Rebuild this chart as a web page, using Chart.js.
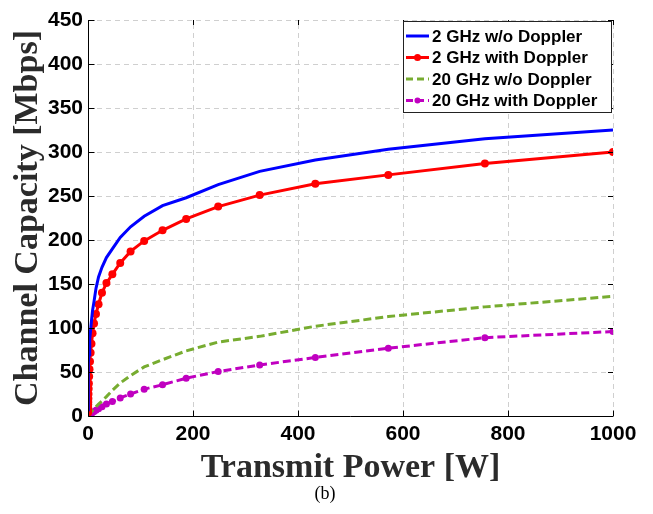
<!DOCTYPE html>
<html>
<head>
<meta charset="utf-8">
<script src="https://cdn.jsdelivr.net/npm/chart.js@4.4.0/dist/chart.umd.min.js"></script>
<style>
  body { margin: 0; background: #fff; }
  #wrap { width: 653px; height: 514px; }
</style>
</head>
<body>
<div id="wrap"><canvas id="capChart" width="653" height="514"></canvas></div>
<script>
// Transmit power samples [W] (log-spaced)
const power = [0.1, 0.13, 0.18, 0.23, 0.31, 0.41, 0.54, 0.71, 0.94, 1.24, 1.64, 2.17,
  2.86, 3.78, 5.0, 6.6, 8.7, 11.5, 15.2, 20.1, 26.6, 35.1, 46.4, 61.4, 81.1, 107,
  142, 187, 248, 327, 433, 572, 756, 1000];

// Channel capacity [Mbps]
const cap2NoDop = [7, 9, 12, 15, 19, 24, 30, 36, 43, 51, 60, 70, 80, 88, 98, 108,
  120, 130, 145, 158, 169, 180, 190, 203, 215, 227, 239, 248, 263, 278, 291, 303, 315, 325];
const cap2Dop = [4, 5, 6, 8, 10, 13, 16, 20, 25, 31, 37, 45, 53, 62, 72, 82, 94,
  105, 116, 127, 140, 151, 161, 174, 187, 199, 211, 224, 238, 251, 264, 274, 287, 300];
const cap20NoDop = [0.08, 0.1, 0.15, 0.2, 0.25, 0.3, 0.4, 0.5, 0.7, 0.9, 1.2, 1.6,
  2.1, 2.8, 3.7, 4.8, 6.2, 8, 10.5, 13.5, 17, 22, 29, 37.5, 46, 55.8, 64, 74, 84, 90.5, 102, 113, 124, 136];
const cap20Dop = [0.05, 0.07, 0.1, 0.12, 0.15, 0.2, 0.3, 0.4, 0.5, 0.6, 0.8, 1.1,
  1.4, 1.8, 2.3, 3.0, 3.9, 5, 6.5, 8.2, 10.5, 13.5, 16.5, 20.5, 25, 30.5, 35.5, 43, 50.5, 58, 66.5, 77, 89, 96];

const seriesNames = ["2 GHz w/o Doppler", "2 GHz with Doppler", "20 GHz w/o Doppler", "20 GHz with Doppler"];
const xTicks = [0, 200, 400, 600, 800, 1000];
const yTicks = [0, 50, 100, 150, 200, 250, 300, 350, 400, 450];

const toPts = (ys) => power.map((x, i) => ({ x: x, y: ys[i] }));

const styles = [
  { color: "#0000ff", dash: [], marker: 0 },
  { color: "#ff0000", dash: [], marker: 4 },
  { color: "#77ac30", dash: [8, 4], marker: 0 },
  { color: "#c000c0", dash: [8, 4], marker: 3.5 },
];

// dashed grid under the lines
const dashedGrid = {
  id: "dashedGrid",
  beforeDatasetsDraw(chart) {
    const ctx = chart.ctx;
    const a = chart.chartArea;
    const xs = chart.scales.x, ys = chart.scales.y;
    ctx.save();
    ctx.strokeStyle = "#cfcfcf";
    ctx.lineWidth = 1;
    ctx.setLineDash([5, 4]);
    ctx.beginPath();
    xTicks.slice(1).forEach((t) => {
      const px = Math.round(xs.getPixelForValue(t)) + 0.5;
      ctx.moveTo(px, a.bottom); ctx.lineTo(px, a.top);
    });
    yTicks.slice(1).forEach((t) => {
      const py = Math.round(ys.getPixelForValue(t)) + 0.5;
      ctx.moveTo(a.left, py); ctx.lineTo(a.right, py);
    });
    ctx.stroke();
    ctx.restore();
  },
};

// inward ticks, legend box and caption
const extras = {
  id: "extras",
  afterDraw(chart) {
    const ctx = chart.ctx;
    const a = chart.chartArea;
    const xs = chart.scales.x, ys = chart.scales.y;
    ctx.save();
    ctx.strokeStyle = "#000";
    ctx.lineWidth = 1;
    ctx.beginPath();
    const l = Math.round(a.left) + 0.5, b = Math.round(a.bottom) + 0.5;
    ctx.moveTo(l, a.top); ctx.lineTo(l, b); ctx.lineTo(a.right, b);
    xTicks.forEach((t) => {
      const px = Math.round(xs.getPixelForValue(t)) + 0.5;
      ctx.moveTo(px, b); ctx.lineTo(px, b - 6);
      ctx.moveTo(px, a.top); ctx.lineTo(px, a.top + 5);
    });
    yTicks.forEach((t) => {
      const py = Math.round(ys.getPixelForValue(t)) + 0.5;
      ctx.moveTo(l, py); ctx.lineTo(l + 6, py);
      ctx.moveTo(a.right, py); ctx.lineTo(a.right - 5, py);
    });
    ctx.stroke();

    // legend
    const bx = 403.5, by = 21.5, bw = 208, bh = 91;
    ctx.fillStyle = "#fff";
    ctx.fillRect(bx, by, bw, bh);
    ctx.strokeStyle = "#222";
    ctx.strokeRect(bx, by, bw, bh);
    ctx.font = "bold 17px 'Liberation Sans', Arial, sans-serif";
    ctx.textBaseline = "middle";
    ctx.textAlign = "left";
    seriesNames.forEach((name, i) => {
      const ry = 36 + i * 21.5;
      const st = styles[i];
      ctx.strokeStyle = st.color;
      ctx.lineWidth = 3;
      ctx.setLineDash(st.dash.length ? [7, 4] : []);
      ctx.beginPath();
      ctx.moveTo(406, ry); ctx.lineTo(429, ry);
      ctx.stroke();
      ctx.setLineDash([]);
      if (st.marker) {
        ctx.fillStyle = st.color;
        ctx.beginPath();
        ctx.arc(417.5, ry, st.marker - 0.5, 0, Math.PI * 2);
        ctx.fill();
      }
      ctx.fillStyle = "#000";
      ctx.fillText(name, 432, ry + 1);
    });

    // caption
    ctx.font = "18px 'Liberation Serif', 'Times New Roman', serif";
    ctx.textAlign = "center";
    ctx.fillStyle = "#000";
    ctx.fillText("(b)", 325, 494);
    ctx.restore();
  },
};

const datasets = [cap2NoDop, cap2Dop, cap20NoDop, cap20Dop].map((vals, i) => ({
  label: seriesNames[i],
  data: toPts(vals),
  borderColor: styles[i].color,
  backgroundColor: styles[i].color,
  borderWidth: 3,
  borderDash: styles[i].dash,
  pointRadius: styles[i].marker,
  pointBorderWidth: 0,
  tension: 0,
  fill: false,
}));

const tickFont = { family: "'Liberation Sans', Arial, sans-serif", size: 21, weight: "bold" };
const titleFont = { family: "'Liberation Serif', 'Times New Roman', serif", size: 34, weight: "bold" };

new Chart(document.getElementById("capChart"), {
  type: "line",
  data: { datasets: datasets },
  options: {
    responsive: false,
    animation: false,
    layout: { padding: { top: 20, right: 40, left: 0, bottom: 0 } },
    plugins: { legend: { display: false }, tooltip: { enabled: false } },
    scales: {
      x: {
        type: "linear",
        min: 0,
        max: 1000,
        afterFit: (s) => { s.height = 98; },
        afterBuildTicks: (s) => { s.ticks = xTicks.map((v) => ({ value: v })); },
        ticks: { font: tickFont, color: "#000", padding: 6, maxRotation: 0, autoSkip: false, callback: (v) => String(v) },
        grid: { display: false, drawTicks: false },
        border: { display: false },
        title: { display: true, text: "Transmit Power [W]", font: titleFont, color: "#2b2b2b", padding: { bottom: 25 } },
      },
      y: {
        type: "linear",
        min: 0,
        max: 450,
        afterFit: (s) => { s.width = 88; },
        afterBuildTicks: (s) => { s.ticks = yTicks.map((v) => ({ value: v })); },
        ticks: { font: tickFont, color: "#000", padding: 5, callback: (v) => String(v) },
        grid: { display: false, drawTicks: false },
        border: { display: false },
        title: { display: true, text: "Channel Capacity [Mbps]", font: titleFont, color: "#2b2b2b", padding: { top: 8 } },
      },
    },
  },
  plugins: [dashedGrid, extras],
});
</script>
</body>
</html>
